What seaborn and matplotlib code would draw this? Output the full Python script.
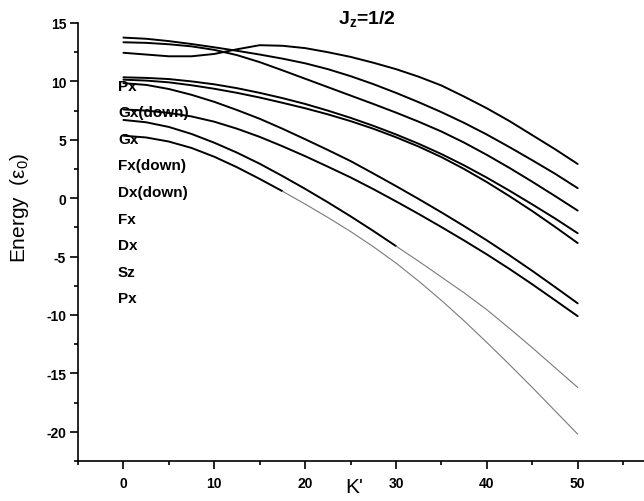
import matplotlib
matplotlib.use("Agg")
import matplotlib.pyplot as plt
import seaborn as sns
from matplotlib.ticker import MultipleLocator

# ---- data ----
k = [0, 2.5, 5, 7.5, 10, 12.5, 15, 17.5, 20, 22.5, 25,
     27.5, 30, 32.5, 35, 37.5, 40, 42.5, 45, 47.5, 50]

band_t1 = [12.45, 12.3, 12.15, 12.15, 12.35, 12.75, 13.1, 13.05, 12.85, 12.5, 12.1,
           11.6, 11.05, 10.4, 9.65, 8.7, 7.7, 6.6, 5.4, 4.2, 2.93]
band_t2 = [13.75, 13.65, 13.45, 13.2, 12.92, 12.62, 12.3, 11.95, 11.55, 11.05, 10.45,
           9.77, 9.02, 8.22, 7.37, 6.45, 5.45, 4.37, 3.25, 2.1, 0.86]
band_t3 = [13.35, 13.3, 13.18, 13.0, 12.7, 12.25, 11.65, 10.95, 10.23, 9.51, 8.79,
           8.07, 7.33, 6.55, 5.71, 4.76, 3.71, 2.59, 1.41, 0.19, -1.06]
band_m1 = [10.35, 10.3, 10.2, 10.0, 9.75, 9.42, 9.02, 8.57, 8.07, 7.5, 6.88,
           6.2, 5.46, 4.66, 3.78, 2.81, 1.76, 0.64, -0.53, -1.73, -3.0]
band_m2 = [10.15, 10.07, 9.92, 9.67, 9.37, 9.02, 8.62, 8.17, 7.7, 7.18, 6.6,
           5.95, 5.22, 4.42, 3.52, 2.5, 1.38, 0.17, -1.1, -2.45, -3.84]
band_m3 = [9.85, 9.7, 9.35, 8.85, 8.25, 7.55, 6.8, 5.95, 5.05, 4.13, 3.18,
           2.12, 1.04, -0.07, -1.21, -2.39, -3.61, -4.89, -6.22, -7.6, -9.0]
band_l1 = [7.6, 7.5, 7.3, 7.0, 6.55, 5.95, 5.25, 4.45, 3.6, 2.7, 1.78,
           0.78, -0.27, -1.35, -2.47, -3.62, -4.81, -6.06, -7.37, -8.73, -10.1]
band_l2 = [6.7, 6.5, 6.1, 5.5, 4.75, 3.9, 2.95, 1.9, 0.8, -0.35, -1.55,
           -2.8, -4.1, -5.4, -6.75, -8.1, -9.55, -11.15, -12.8, -14.5, -16.2]
band_l3 = [5.35, 5.2, 4.85, 4.3, 3.55, 2.65, 1.65, 0.6, -0.5, -1.65, -2.85,
           -4.15, -5.55, -7.1, -8.75, -10.5, -12.35, -14.25, -16.2, -18.2, -20.2]

state_labels = ["Px", "Gx(down)", "Gx", "Fx(down)", "Dx(down)", "Fx", "Dx", "Sz", "Px"]
x_ticks = [0, 10, 20, 30, 40, 50]
y_ticks = [-20, -15, -10, -5, 0, 5, 10, 15]

# ---- style ----
sns.set_style("ticks")
plt.rcParams["font.family"] = ["Liberation Sans", "DejaVu Sans"]
plt.rcParams["font.weight"] = "bold"
plt.rcParams["text.color"] = "black"
plt.rcParams["axes.labelcolor"] = "black"
plt.rcParams["xtick.color"] = "black"
plt.rcParams["ytick.color"] = "black"
plt.rcParams["mathtext.fontset"] = "custom"
plt.rcParams["mathtext.rm"] = "Liberation Sans:bold"
plt.rcParams["mathtext.it"] = "Liberation Sans:bold"
plt.rcParams["mathtext.bf"] = "Liberation Sans:bold"
plt.rcParams["mathtext.default"] = "regular"

fig = plt.figure(figsize=(6.44, 5.02), dpi=100)
ax = fig.add_axes([78 / 644, 40 / 502, 566 / 644, 438 / 502])

LW = 1.4
for band in [band_t1, band_t2, band_t3, band_m1, band_m2, band_m3, band_l1]:
    sns.lineplot(x=k, y=band, ax=ax, color="black", lw=LW)

# lower two bands: bold at first, then thin grey (as in the reference)
cut2 = 12  # index where band_l2 turns thin
cut3 = 7   # index where band_l3 turns thin
sns.lineplot(x=k[:cut2 + 1], y=band_l2[:cut2 + 1], ax=ax, color="black", lw=LW)
sns.lineplot(x=k[cut2:], y=band_l2[cut2:], ax=ax, color="#7a7a7a", lw=0.8)
sns.lineplot(x=k[:cut3 + 1], y=band_l3[:cut3 + 1], ax=ax, color="black", lw=LW)
sns.lineplot(x=k[cut3:], y=band_l3[cut3:], ax=ax, color="#7a7a7a", lw=0.8)

ax.set_xlim(-5, 57.3)
ax.set_ylim(-22.5, 15)
ax.set_xticks(x_ticks)
ax.set_yticks(y_ticks)
ax.set_yticklabels([str(t) for t in y_ticks])
ax.set_xticklabels([str(t) for t in x_ticks])
ax.xaxis.set_minor_locator(MultipleLocator(5))
ax.yaxis.set_minor_locator(MultipleLocator(2.5))

sns.despine(ax=ax)
for s in ["left", "bottom"]:
    ax.spines[s].set_linewidth(1.2)
    ax.spines[s].set_color("black")
ax.tick_params(axis="both", which="major", direction="out", length=5.5, width=1.2,
               colors="black", labelsize=10)
ax.tick_params(axis="both", which="minor", direction="out", length=3, width=1.2,
               colors="black")
ax.tick_params(axis="x", which="major", pad=5)
ax.tick_params(axis="y", which="major", pad=3)

ax.set_xlabel("K'", fontsize=15, color="black")
ax.xaxis.set_label_coords(0.488, -0.036)
ax.set_ylabel("Energy  (ε$_0$)", fontsize=15, color="black")
ax.yaxis.set_label_coords(-0.083, 0.58)

for i, name in enumerate(state_labels):
    ax.text(-0.6, 9.64 - i * 2.276, name, ha="left", va="center", fontsize=11,
            color="black")

fig.text(367 / 644, 1 - 19 / 502, "J$_z$=1/2", ha="center", va="center", fontsize=14,
         color="black")

fig.savefig("out.png", dpi=100)
